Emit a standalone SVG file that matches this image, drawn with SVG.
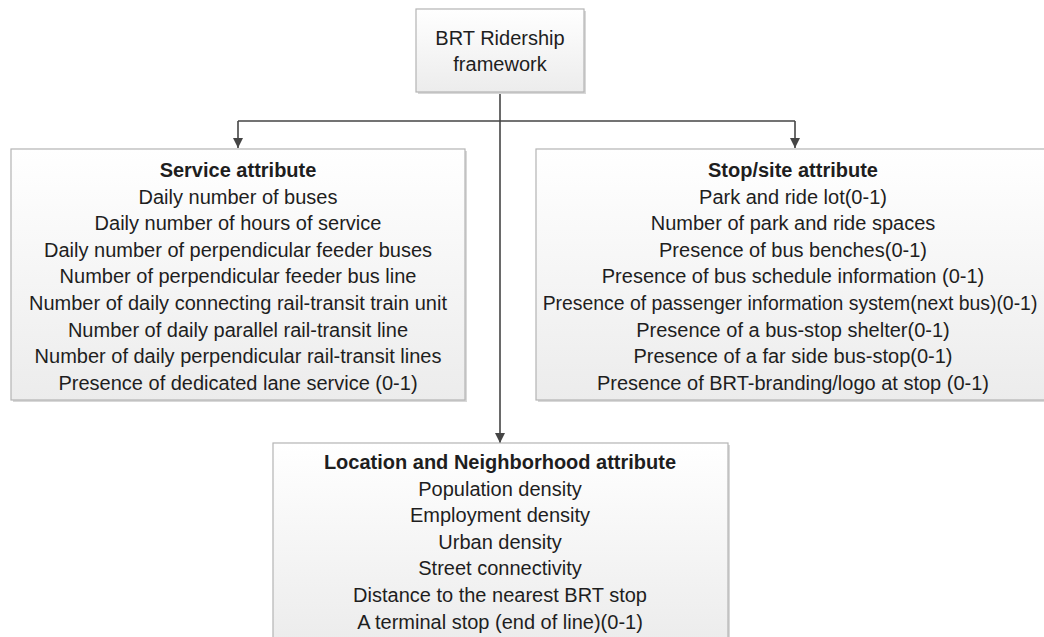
<svg xmlns="http://www.w3.org/2000/svg" width="1044" height="637" viewBox="0 0 1044 637">
<style>
.box{fill:url(#g);stroke:#b4b4b4;stroke-width:1.2}
.sh{fill:#d8d8d8}
text{font-family:"Liberation Sans",Arial,sans-serif;font-size:20px;fill:#1e1e1e;text-anchor:middle}
.h{font-weight:bold}
.c{fill:none;stroke:#454545;stroke-width:1.6}
</style>
<defs>
<linearGradient id="g" x1="0" y1="0" x2="0" y2="1">
<stop offset="0" stop-color="#ffffff"/>
<stop offset="1" stop-color="#ececec"/>
</linearGradient>
<marker id="a" viewBox="0 0 10 10" refX="10" refY="5" markerWidth="10" markerHeight="10" markerUnits="userSpaceOnUse" orient="auto">
<path d="M0,0 L10,5 L0,10 Z" fill="#454545"/>
</marker>
</defs>
<g id="connectors">
<path class="c" d="M500,92 V443" marker-end="url(#a)"/>
<path class="c" d="M238,121 H795"/>
<path class="c" d="M238,121 V148" marker-end="url(#a)"/>
<path class="c" d="M795,121 V148" marker-end="url(#a)"/>
</g>
<g id="root">
<rect class="sh" x="418" y="11" width="168" height="83"/>
<rect class="box" x="416" y="9" width="168" height="83"/>
<text x="500" y="45">BRT Ridership</text>
<text x="500" y="71">framework</text>
</g>
<g id="service">
<rect class="sh" x="13" y="151" width="454" height="251"/>
<rect class="box" x="11" y="149" width="454" height="251"/>
<text class="h" x="238" y="177">Service attribute</text>
<text x="238" y="203.6">Daily number of buses</text>
<text x="238" y="230.2">Daily number of hours of service</text>
<text x="238" y="256.8">Daily number of perpendicular feeder buses</text>
<text x="238" y="283.4">Number of perpendicular feeder bus line</text>
<text x="238" y="310">Number of daily connecting rail-transit train unit</text>
<text x="238" y="336.6">Number of daily parallel rail-transit line</text>
<text x="238" y="363.2">Number of daily perpendicular rail-transit lines</text>
<text x="238" y="389.8">Presence of dedicated lane service (0-1)</text>
</g>
<g id="stop">
<rect class="sh" x="538" y="151" width="514" height="251"/>
<rect class="box" x="536" y="149" width="514" height="251"/>
<text class="h" x="793" y="177">Stop/site attribute</text>
<text x="793" y="203.6">Park and ride lot(0-1)</text>
<text x="793" y="230.2">Number of park and ride spaces</text>
<text x="793" y="256.8">Presence of bus benches(0-1)</text>
<text x="793" y="283.4">Presence of bus schedule information (0-1)</text>
<text x="790" y="310" style="font-size:19.4px">Presence of passenger information system(next bus)(0-1)</text>
<text x="793" y="336.6">Presence of a bus-stop shelter(0-1)</text>
<text x="793" y="363.2">Presence of a far side bus-stop(0-1)</text>
<text x="793" y="389.8">Presence of BRT-branding/logo at stop (0-1)</text>
</g>
<g id="location">
<rect class="sh" x="275" y="445" width="455" height="200"/>
<rect class="box" x="273" y="443" width="455" height="200"/>
<text class="h" x="500" y="469">Location and Neighborhood attribute</text>
<text x="500" y="495.6">Population density</text>
<text x="500" y="522.2">Employment density</text>
<text x="500" y="548.8">Urban density</text>
<text x="500" y="575.4">Street connectivity</text>
<text x="500" y="602">Distance to the nearest BRT stop</text>
<text x="500" y="628.6">A terminal stop (end of line)(0-1)</text>
</g>
</svg>
